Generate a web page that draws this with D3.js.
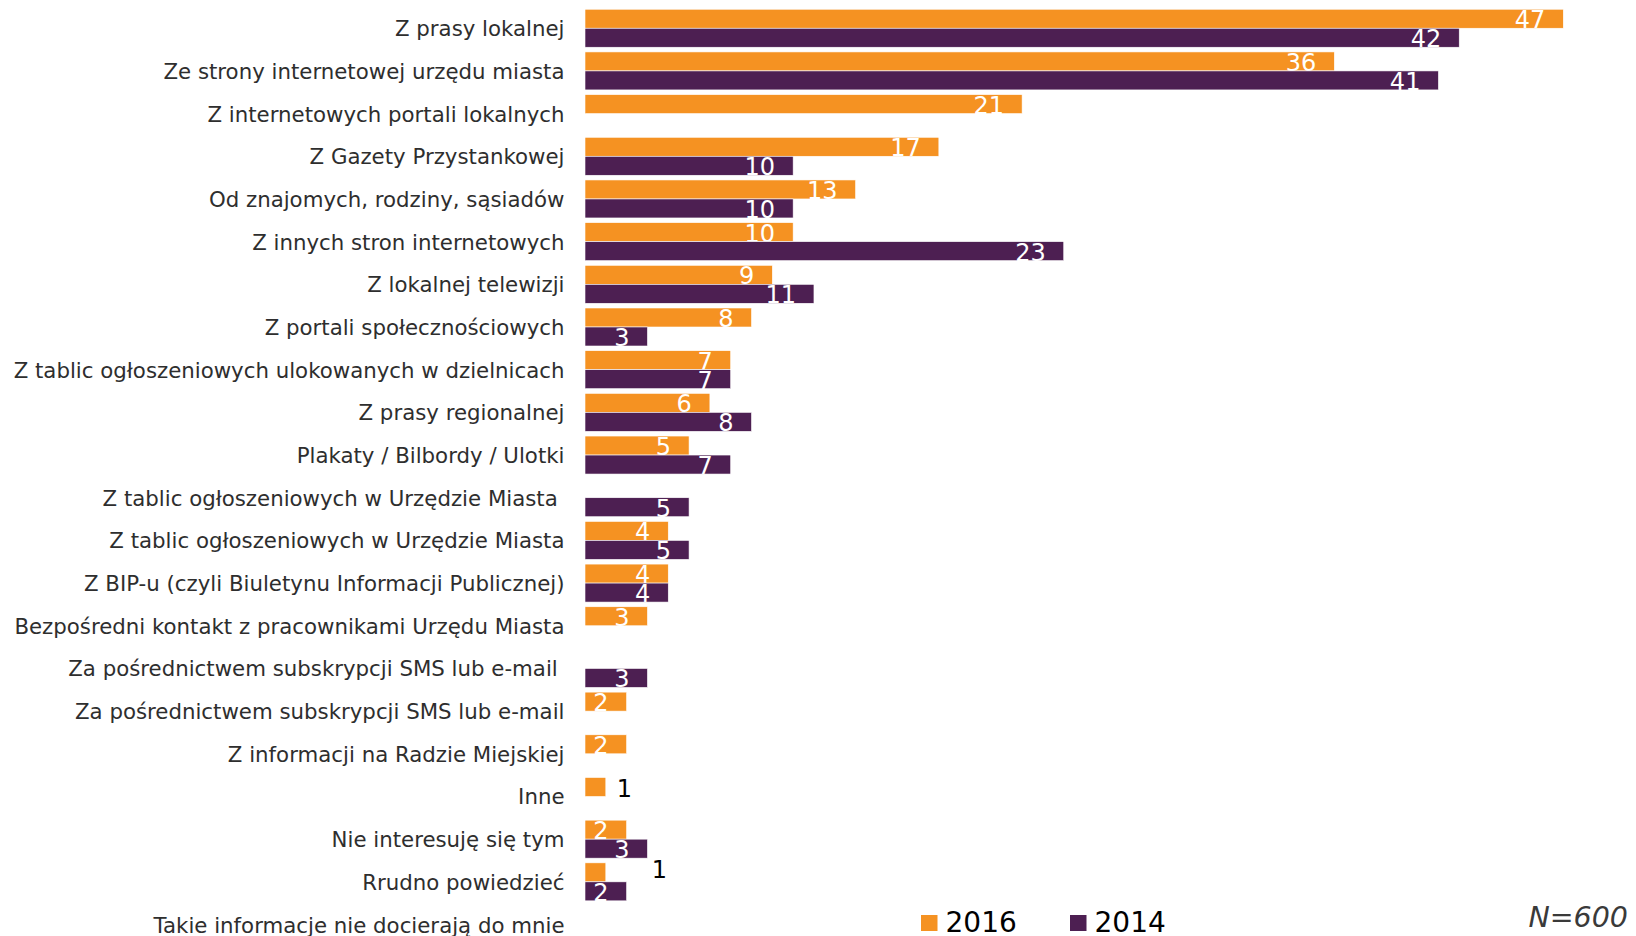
<!DOCTYPE html>
<html>
<head>
<meta charset="utf-8">
<script src="https://cdn.jsdelivr.net/npm/d3@7"></script>
<style>
  body { margin: 0; background: #fff; }
  svg { display: block; }
  text { white-space: pre; }
</style>
</head>
<body>
<div id="chart"></div>
<script>
const categories = [
    'Z prasy lokalnej',
    'Ze strony internetowej urzędu miasta',
    'Z internetowych portali lokalnych',
    'Z Gazety Przystankowej',
    'Od znajomych, rodziny, sąsiadów',
    'Z innych stron internetowych',
    'Z lokalnej telewizji',
    'Z portali społecznościowych',
    'Z tablic ogłoszeniowych ulokowanych w dzielnicach',
    'Z prasy regionalnej',
    'Plakaty / Bilbordy / Ulotki',
    'Z tablic ogłoszeniowych w Urzędzie Miasta ',
    'Z tablic ogłoszeniowych w Urzędzie Miasta',
    'Z BIP-u (czyli Biuletynu Informacji Publicznej)',
    'Bezpośredni kontakt z pracownikami Urzędu Miasta',
    'Za pośrednictwem subskrypcji SMS lub e-mail ',
    'Za pośrednictwem subskrypcji SMS lub e-mail',
    'Z informacji na Radzie Miejskiej',
    'Inne',
    'Nie interesuję się tym',
    'Rrudno powiedzieć',
    'Takie informacje nie docierają do mnie'
];
const values2016 = [47, 36, 21, 17, 13, 10, 9, 8, 7, 6, 5, null, 4, 4, 3, null, 2, 2, 1, 2, 1, null];
const values2014 = [42, 41, null, 10, 10, 23, 11, 3, 7, 8, 7, 5, 5, 4, null, 3, null, null, null, 3, 2, null];
const seriesNames = ['2016', '2014'];
const sampleNote = 'N=600';

const colors = { '2016': '#f59222', '2014': '#4d1f52' };

const svgWidth = 1636, svgHeight = 936;
const barLeft = 585;
const barH = 19;

const svg = d3.select('#chart')
    .append('svg')
    .attr('width', svgWidth)
    .attr('height', svgHeight);

const x = d3.scaleLinear()
    .domain([0, 47])
    .range([barLeft, 1563.3]);

const y = d3.scaleBand()
    .domain(categories.map((d, i) => i))
    .range([6.9, 6.9 + 42.68 * categories.length])
    .padding(0);

const rows = categories.map((c, i) => ({
    name: c,
    i: i,
    mid: y(i) + y.bandwidth() / 2,
    v: { '2016': values2016[i], '2014': values2014[i] }
}));

// category labels
svg.append('g')
    .selectAll('text')
    .data(rows)
    .enter().append('text')
    .attr('x', 564.5)
    .attr('y', d => d.mid + 8)
    .attr('text-anchor', 'end')
    .attr('font-family', 'DejaVu Sans, Verdana, sans-serif')
    .attr('font-size', 21.3)
    .attr('fill', '#2e2e2e')
    .text(d => d.name);

// bars, 2016 above the middle and 2014 below
seriesNames.forEach((s, k) => {
    const pts = rows.filter(d => d.v[s] != null);
    const top = d => k === 0 ? d.mid - barH : d.mid;

    svg.append('g')
        .selectAll('rect')
        .data(pts)
        .enter().append('rect')
        .attr('x', x(0))
        .attr('y', top)
        .attr('width', d => x(d.v[s]) - x(0))
        .attr('height', barH)
        .attr('fill', colors[s])
        .attr('stroke', '#fff')
        .attr('stroke-width', 0.6);

    svg.append('g')
        .selectAll('text')
        .data(pts)
        .enter().append('text')
        .attr('font-family', 'DejaVu Sans, Verdana, sans-serif')
        .attr('font-size', 24)
        .each(function (d) {
            const t = d3.select(this);
            const v = d.v[s];
            if (v > 1) {
                t.attr('x', x(v) - 18)
                    .attr('y', top(d) + barH)
                    .attr('text-anchor', 'end')
                    .attr('fill', '#fff');
            } else {
                // small bars get a black label outside
                const far = d.i === categories.length - 2;
                t.attr('x', x(v) + (far ? 46 : 11))
                    .attr('y', top(d) + barH + (far ? -4 : 1))
                    .attr('text-anchor', 'start')
                    .attr('fill', '#000');
            }
        })
        .text(d => d.v[s]);
});

// legend
const legend = svg.append('g');
seriesNames.forEach((s, k) => {
    const lx = 921 + k * 149;
    legend.append('rect')
        .attr('x', lx)
        .attr('y', 915)
        .attr('width', 16.5)
        .attr('height', 16)
        .attr('fill', colors[s]);
    legend.append('text')
        .attr('x', lx + 24.5)
        .attr('y', 931.5)
        .attr('font-family', 'DejaVu Sans, Verdana, sans-serif')
        .attr('font-size', 28)
        .attr('fill', '#000')
        .text(s);
});

svg.append('text')
    .attr('x', 1628)
    .attr('y', 927)
    .attr('text-anchor', 'end')
    .attr('font-family', 'DejaVu Sans, Verdana, sans-serif')
    .attr('font-style', 'italic')
    .attr('font-size', 28.5)
    .attr('fill', '#3a3a3a')
    .text(sampleNote);
</script>
</body>
</html>
